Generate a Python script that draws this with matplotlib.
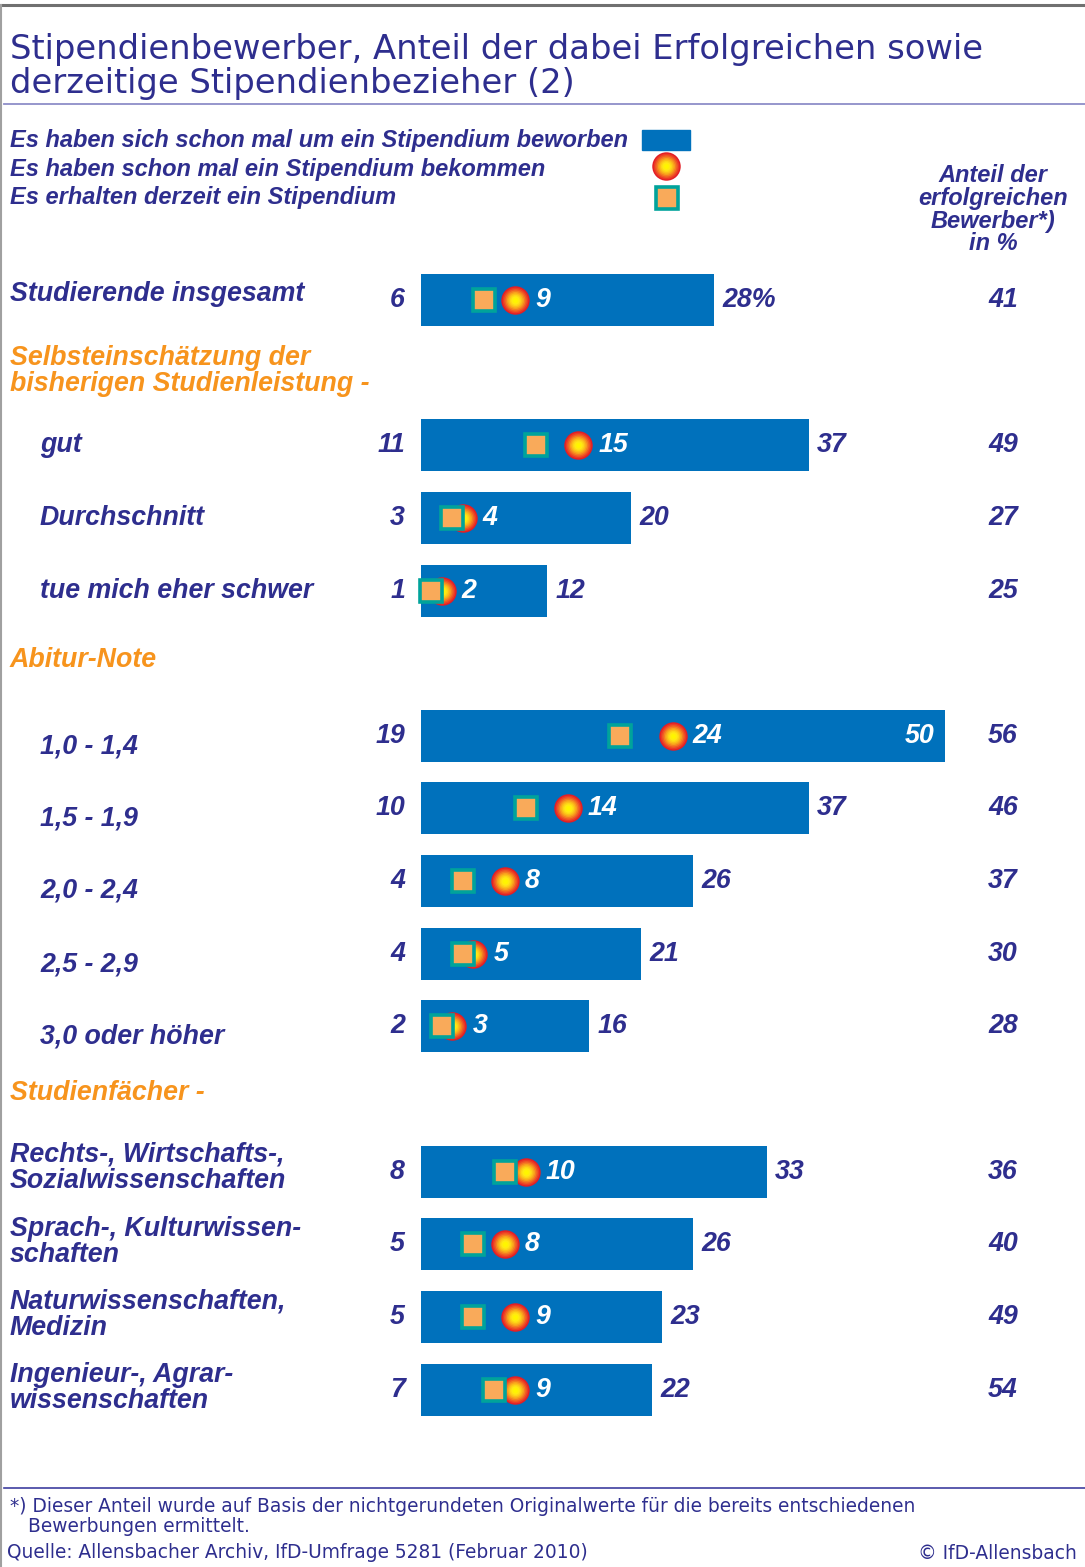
import numpy as np
import matplotlib
matplotlib.use("Agg")
import matplotlib.pyplot as plt

# ── Daten (IfD-Umfrage 5281, Februar 2010) ─────────────────────────────────
labels = ["Studierende insgesamt",
          "gut", "Durchschnitt", "tue mich eher schwer",
          "1,0 - 1,4", "1,5 - 1,9", "2,0 - 2,4", "2,5 - 2,9", "3,0 oder höher",
          "Rechts-, Wirtschafts-,\nSozialwissenschaften",
          "Sprach-, Kulturwissen-\nschaften",
          "Naturwissenschaften,\nMedizin",
          "Ingenieur-, Agrar-\nwissenschaften"]
applied  = [28, 37, 20, 12, 50, 37, 26, 21, 16, 33, 26, 23, 22]   # beworben
received = [9, 15, 4, 2, 24, 14, 8, 5, 3, 10, 8, 9, 9]            # bekommen
current  = [6, 11, 3, 1, 19, 10, 4, 4, 2, 8, 5, 5, 7]             # erhalten derzeit
success  = [41, 49, 27, 25, 56, 46, 37, 30, 28, 36, 40, 49, 54]   # Anteil Erfolgreiche

sections = ["Selbsteinschätzung der\nbisherigen Studienleistung -",
            "Abitur-Note", "Studienfächer -"]

legend_texts = ["Es haben sich schon mal um ein Stipendium beworben",
                "Es haben schon mal ein Stipendium bekommen",
                "Es erhalten derzeit ein Stipendium"]

# ── Layout (Pixel) ─────────────────────────────────────────────────────────
W, H = 1085, 1567
row_y = [300, 445, 518, 591, 736, 808, 881, 954, 1026, 1172, 1244, 1317, 1390]
label_x = [10, 40, 40, 40, 40, 40, 40, 40, 40, 10, 10, 10, 10]
label_dy = [-6, 0, 0, 0, 10, 10, 10, 10, 10, -4, -2, -2, -2]
section_y = [371, 660, 1093]
X0, PX_PER_UNIT = 421, 10.48
BAR_H = 52

NAVY = "#2E2E8E"
ORANGE = "#F7941D"
BLUE = "#0071BC"
SQ_FILL = "#F9AA5A"
SQ_EDGE = "#00A39B"
FONT = "DejaVu Sans"
BFONT = "Liberation Sans"

fig = plt.figure(figsize=(W / 100, H / 100), dpi=100)
# Balken-Achse: x in Prozentpunkten, y in Pixel
ax = fig.add_axes([0, 0, 1, 1])
ax.set_xlim(-X0 / PX_PER_UNIT, (W - X0) / PX_PER_UNIT)
ax.set_ylim(H, 0)
ax.axis("off")
# Text-Achse in Pixeln
lay = fig.add_axes([0, 0, 1, 1], zorder=5)
lay.set_xlim(0, W)
lay.set_ylim(H, 0)
lay.axis("off")
lay.patch.set_alpha(0)

renderer = fig.canvas.get_renderer()


def fit(t, width):
    bb = t.get_window_extent(renderer)
    t.set_fontsize(t.get_fontsize() * width / bb.width)
    return t.get_fontsize()


def circle(axis, x, y, s=420):
    # Kugel mit Farbverlauf rot -> gelb
    cols = ["#E31E26", "#EB3A25", "#F05A24", "#F47E21", "#F8A01D", "#FBBE19",
            "#FDD616", "#FFEA12", "#FFF500"]
    fr = [1.0, 0.9, 0.8, 0.7, 0.6, 0.5, 0.4, 0.3, 0.18]
    for i, (c, f) in enumerate(zip(cols, fr)):
        axis.scatter([x], [y], s=s * f ** 2, color=c, zorder=6 + i * 0.01,
                     linewidths=0)


def square(axis, x, y, ms=16.5):
    axis.plot([x], [y], marker="s", ms=ms, mfc=SQ_FILL, mec=SQ_EDGE, mew=2.6,
              zorder=7, ls="none")


# ── Rahmen & Linien ────────────────────────────────────────────────────────
lay.plot([0, W], [5, 5], color="#707070", lw=2.2)
lay.plot([1, 1], [5, H], color="#A0A0A0", lw=1.5)
lay.plot([4, W], [104, 104], color="#8E8EC8", lw=1.3)
lay.plot([4, W], [1488, 1488], color="#3E3EA0", lw=1.2)

# ── Titel ──────────────────────────────────────────────────────────────────
t1 = lay.text(10, 59, "Stipendienbewerber, Anteil der dabei Erfolgreichen sowie",
              color=NAVY, fontsize=24, family=FONT, va="baseline")
ts = fit(t1, 975)
lay.text(10, 93, "derzeitige Stipendienbezieher (2)", color=NAVY, fontsize=ts,
         family=FONT, va="baseline")

# ── Legende ────────────────────────────────────────────────────────────────
leg_t = lay.text(10, 147, legend_texts[0], color=NAVY, fontsize=15, family=BFONT,
                 style="italic", weight="bold", va="baseline")
ls_ = fit(leg_t, 620)
for txt, yb in zip(legend_texts[1:], [176, 204]):
    lay.text(10, yb, txt, color=NAVY, fontsize=ls_, family=BFONT,
             style="italic", weight="bold", va="baseline")
lay.add_patch(plt.Rectangle((642, 130), 48, 20, color=BLUE, zorder=6))
circle(lay, 666, 166)
square(lay, 667, 198)

# rechte Spaltenüberschrift
hd = lay.text(993, 205, "erfolgreichen", color=NAVY, fontsize=15, family=BFONT,
              style="italic", weight="bold", va="baseline", ha="center")
hs = fit(hd, 150)
for txt, yb in zip(["Anteil der", "Bewerber*)", "in %"], [182, 228, 250]):
    lay.text(993, yb, txt, color=NAVY, fontsize=hs, family=BFONT,
             style="italic", weight="bold", va="baseline", ha="center")

# ── Beschriftungen ─────────────────────────────────────────────────────────
ref = lay.text(10, 0, "Sozialwissenschaften", fontsize=18, family=BFONT,
               style="italic", weight="bold")
fs = fit(ref, 276)
ref.remove()

lab_kw = dict(color=NAVY, fontsize=fs, family=BFONT, style="italic",
              weight="bold", va="center", linespacing=1.04)

for lab, lx, ly, dy in zip(labels, label_x, row_y, label_dy):
    lay.text(lx, ly + dy, lab, **lab_kw)

for sec, sy in zip(sections, section_y):
    lay.text(10, sy, sec, **{**lab_kw, "color": ORANGE})

num_kw = dict(fontsize=fs, family=BFONT, style="italic", weight="bold",
              va="center", zorder=9)

# ── Balken ─────────────────────────────────────────────────────────────────
ax.barh(row_y, applied, height=BAR_H, left=0, color=BLUE, zorder=2)

for i, (a, r, c, s, y) in enumerate(zip(applied, received, current, success, row_y)):
    circle(ax, r, y)
    square(ax, c, y)
    ax.text(r + 1.9, y, str(r), color="white", ha="left", **num_kw)
    lay.text(405, y, str(c), color=NAVY, ha="right", **num_kw)
    lay.text(1003, y, str(s), color=NAVY, ha="center", **num_kw)
    lab = f"{a}%" if i == 0 else str(a)
    if a >= 45:
        ax.text(a - 1.0, y, lab, color="white", ha="right", **num_kw)
    else:
        ax.text(a + 0.8, y, lab, color=NAVY, ha="left", **num_kw)

# ── Fußnote & Quelle ───────────────────────────────────────────────────────
fn = lay.text(10, 1512, "*) Dieser Anteil wurde auf Basis der nichtgerundeten "
              "Originalwerte für die bereits entschiedenen", color=NAVY,
              fontsize=12, family=FONT, va="baseline")
fns = fit(fn, 905)
lay.text(28, 1532, "Bewerbungen ermittelt.", color=NAVY, fontsize=fns,
         family=FONT, va="baseline")
lay.text(7, 1558, "Quelle: Allensbacher Archiv, IfD-Umfrage 5281 (Februar 2010)",
         color=NAVY, fontsize=fns, family=FONT, va="baseline")
lay.text(1077, 1559, "© IfD-Allensbach", color=NAVY, fontsize=fns, family=FONT,
         va="baseline", ha="right")

fig.savefig("out.png", dpi=100)
